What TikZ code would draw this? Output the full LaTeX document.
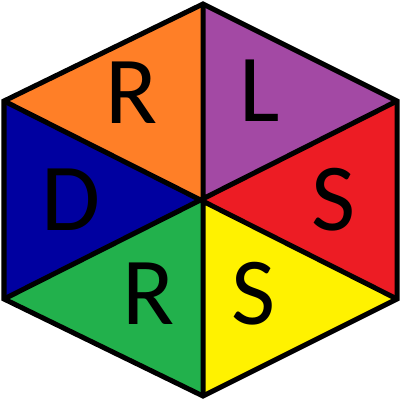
\documentclass[tikz,border=0pt]{standalone}
\usepackage{fontspec}
\setmainfont{Carlito}
\definecolor{cor}{RGB}{255,127,39}
\definecolor{cpu}{RGB}{163,73,164}
\definecolor{cre}{RGB}{237,28,36}
\definecolor{cye}{RGB}{255,242,0}
\definecolor{cgr}{RGB}{34,177,76}
\definecolor{cbl}{RGB}{0,0,160}
\begin{document}
\begin{tikzpicture}[x=1pt,y=-1pt,
  tri/.style={draw=black,line width=5pt,line join=miter},
  let/.style={inner sep=0pt,font=\fontsize{96}{96}\selectfont}]
\useasboundingbox (0,0) rectangle (400,400);
\coordinate (C) at (203,200);
\coordinate (T) at (203,4);
\coordinate (UR) at (397,101);
\coordinate (LR) at (397,299);
\coordinate (B) at (203,396);
\coordinate (LL) at (4,299);
\coordinate (UL) at (4,101);
\fill[cor] (C) -- (UL) -- (T) -- cycle;
\fill[cpu] (C) -- (T) -- (UR) -- cycle;
\fill[cre] (C) -- (UR) -- (LR) -- cycle;
\fill[cye] (C) -- (LR) -- (B) -- cycle;
\fill[cgr] (C) -- (B) -- (LL) -- cycle;
\fill[cbl] (C) -- (LL) -- (UL) -- cycle;
\draw[tri] (T) -- (UR) -- (LR) -- (B) -- (LL) -- (UL) -- cycle;
\draw[tri] (T) -- (B) (UL) -- (LR) (UR) -- (LL);
\node[let] (r1) at (131.5,93) {R};
\node[let] (l1) at (259.5,91) {L};
\node[let] (s1) at (334,200) {S};
\node[let] (s2) at (254,294) {S};
\node[let] (r2) at (148.5,294) {R};
\node[let] (d1) at (71.5,200) {D};
\end{tikzpicture}
\end{document}
